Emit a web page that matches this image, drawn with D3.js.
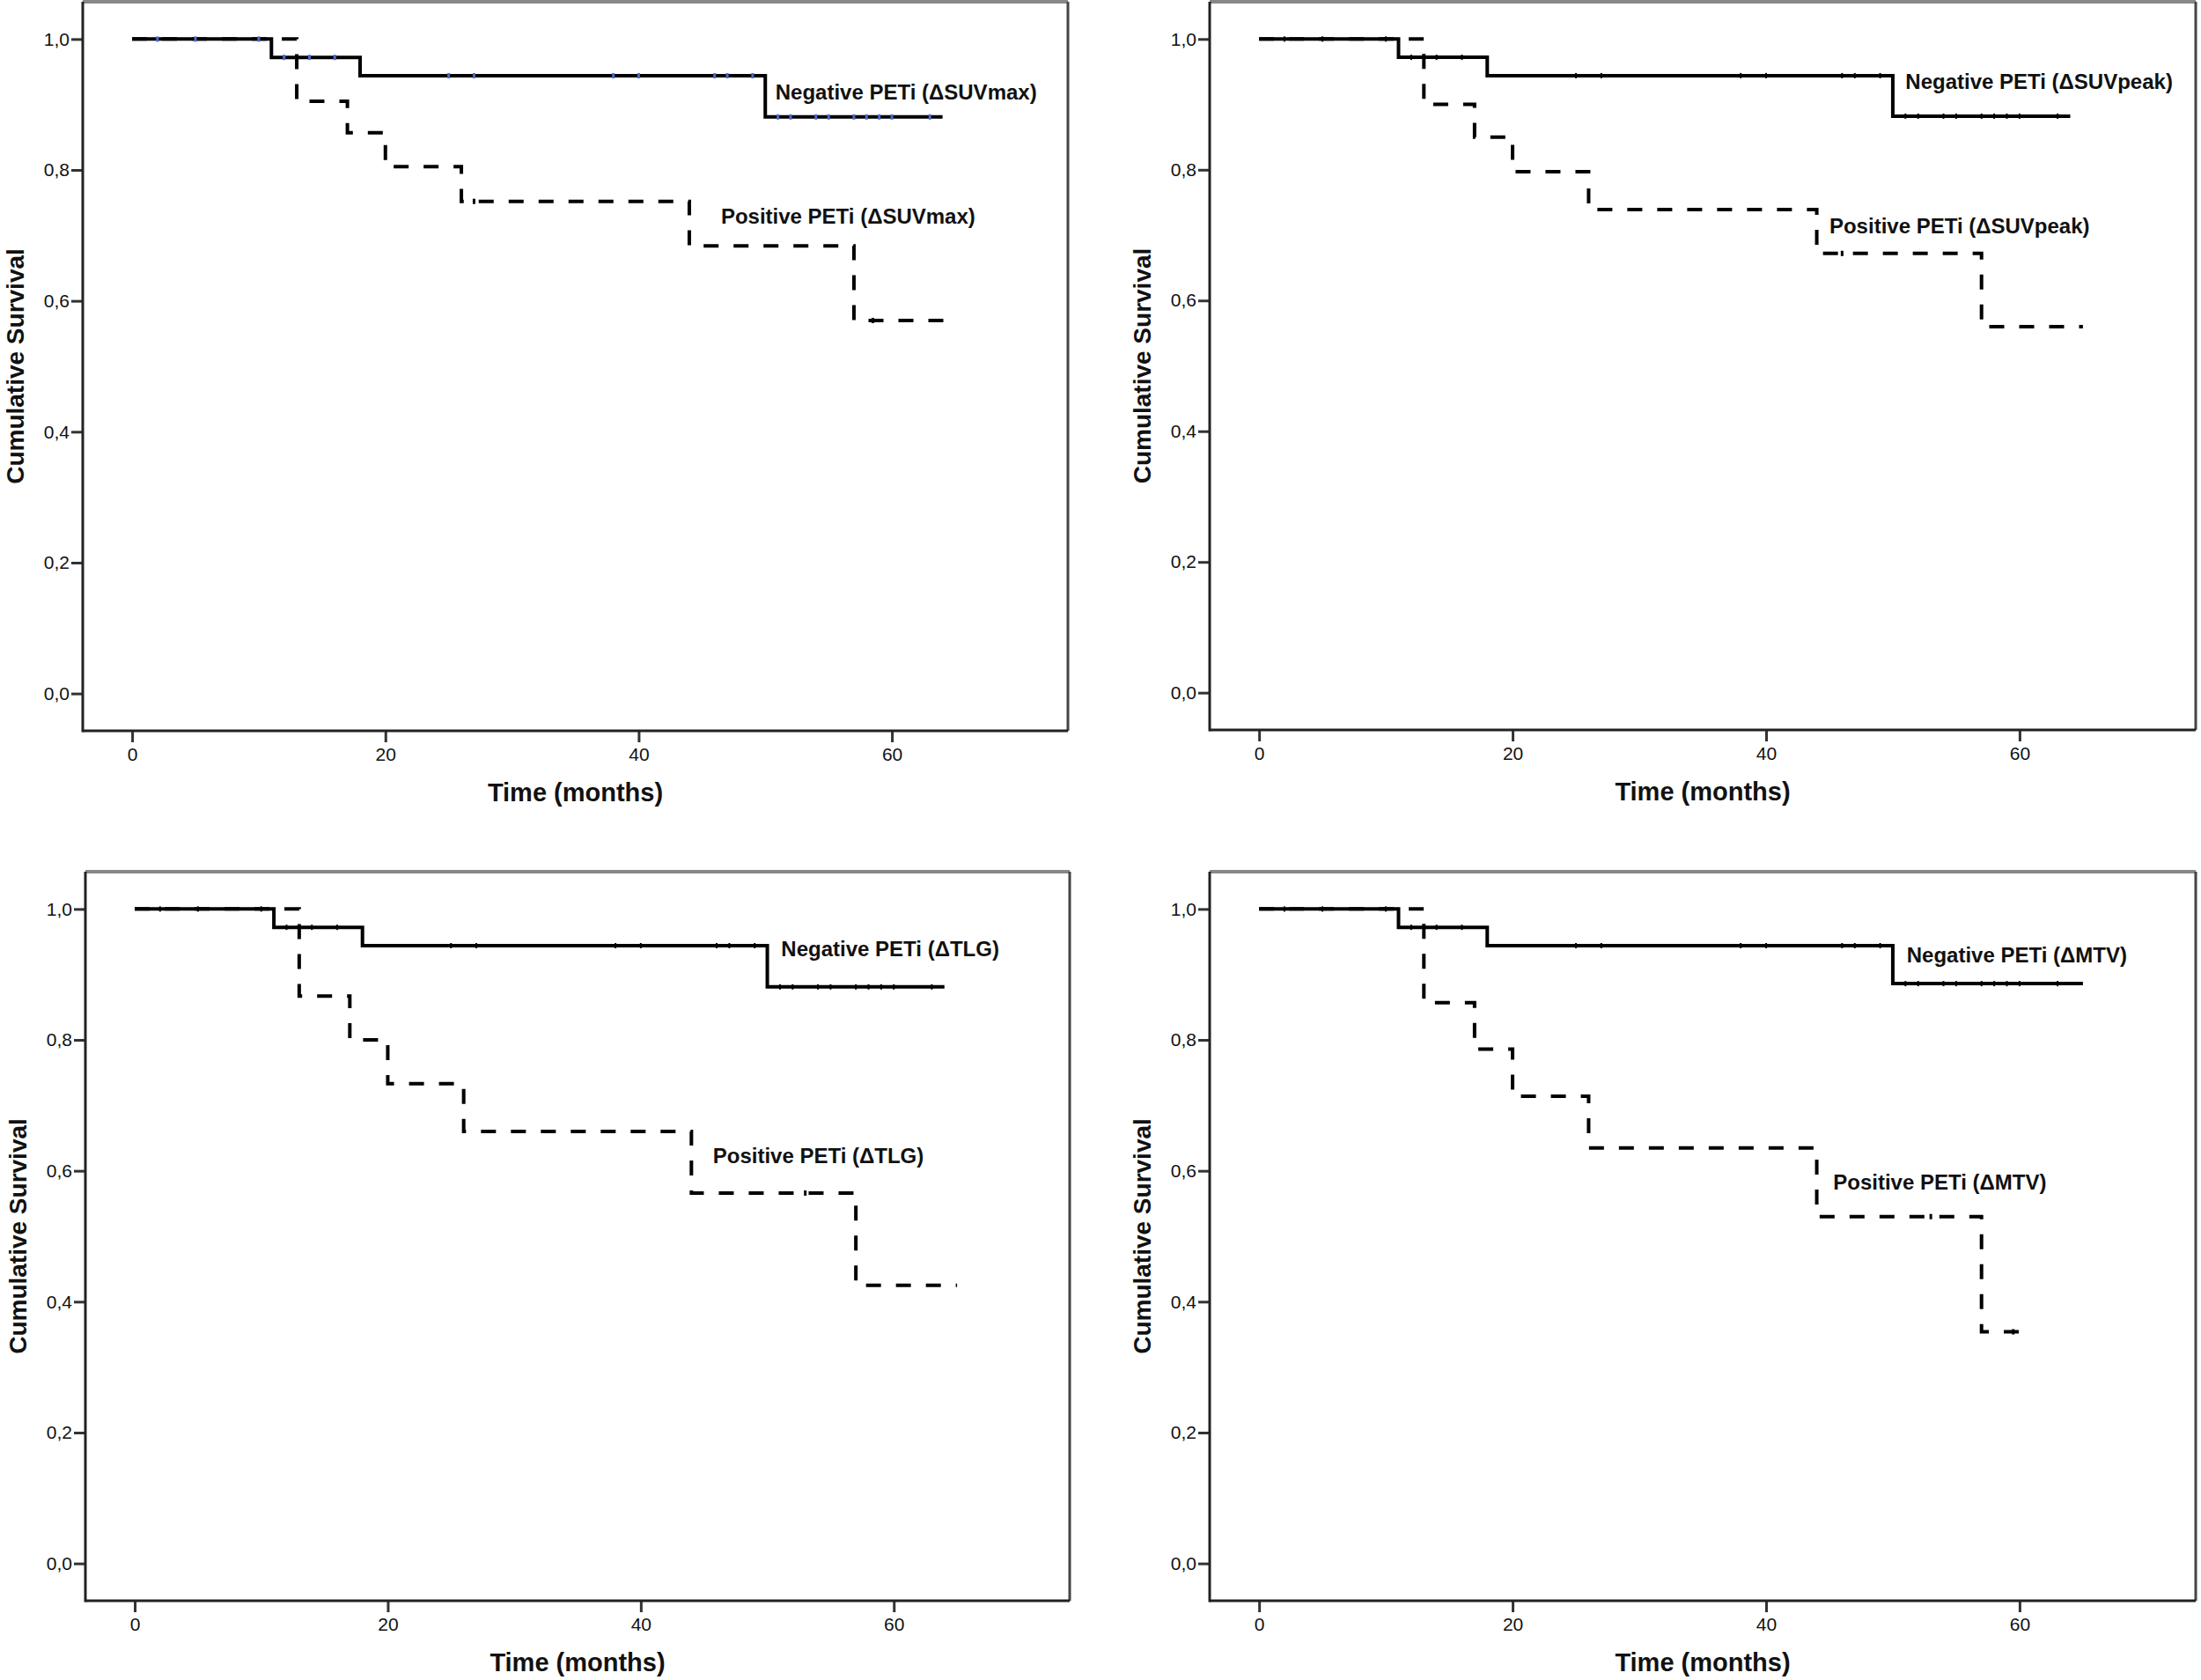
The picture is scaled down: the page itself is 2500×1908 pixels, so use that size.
<!DOCTYPE html>
<html lang="en">
<head>
<meta charset="utf-8">
<title>Kaplan-Meier curves: PETi</title>
<script src="https://d3js.org/d3.v7.min.js"></script>
<style>
  body { margin: 0; background: #fff; }
  text { font-family: "Liberation Sans", Arial, sans-serif; fill: #111; }
</style>
</head>
<body>
<div id="chart"></div>
<script>
// event times (months) shared by the panels
var negTimes = [0, 11, 18, 50];
var posTimes = [0, 13, 17, 20, 26, 44, 57];

// survival estimates
var negSuvmax = [1, 0.972, 0.944, 0.881];
var posSuvmax = [1, 0.905, 0.857, 0.805, 0.752, 0.684, 0.570];
var negSuvpeak = [1, 0.972, 0.944, 0.882];
var posSuvpeak = [1, 0.900, 0.850, 0.797, 0.739, 0.672, 0.560];
var negTlg = [1, 0.972, 0.944, 0.881];
var posTlg = [1, 0.867, 0.800, 0.733, 0.660, 0.566, 0.425];
var negMtv = [1, 0.972, 0.944, 0.886];
var posMtv = [1, 0.857, 0.786, 0.714, 0.635, 0.530, 0.354];

// last follow-up of each curve
var negEnd = [64, 64, 64, 65];
var posEnd = [65, 65, 65, 60];

// censored cases
var negCensor = [2, 5, 10, 12, 14, 16, 25, 27, 38, 40, 46, 47, 49, 51, 52, 54, 55, 57, 58, 59, 60, 63];
var posCensor1 = [27, 58.5];
var posCensor2 = [46];
var posCensor3 = [53];
var posCensor4 = [53, 59.5];

var negLabels = ["Negative PETi (\u0394SUVmax)", "Negative PETi (\u0394SUVpeak)", "Negative PETi (\u0394TLG)", "Negative PETi (\u0394MTV)"];
var posLabels = ["Positive PETi (\u0394SUVmax)", "Positive PETi (\u0394SUVpeak)", "Positive PETi (\u0394TLG)", "Positive PETi (\u0394MTV)"];

var xTicks = [0, 20, 40, 60];
var yTicks = [0, 0.2, 0.4, 0.6, 0.8, 1.0];

// panel frames on the page
var panels = [
  {left: 94,   right: 1213, top: 2,   bottom: 830, neg: negSuvmax,  pos: posSuvmax,  pc: posCensor1, negLab: [50.8, 0.907], posLab: [46.5, 0.718], blue: true},
  {left: 1374, right: 2494, top: 2,   bottom: 829, neg: negSuvpeak, pos: posSuvpeak, pc: posCensor2, negLab: [51.0, 0.923], posLab: [45.0, 0.703]},
  {left: 97,   right: 1215, top: 990, bottom: 1818, neg: negTlg,    pos: posTlg,     pc: posCensor3, negLab: [51.1, 0.928], posLab: [45.7, 0.611]},
  {left: 1374, right: 2494, top: 990, bottom: 1818, neg: negMtv,    pos: posMtv,     pc: posCensor4, negLab: [51.1, 0.919], posLab: [45.3, 0.571]}
];

var W = 2500, H = 1908;

var svg = d3.select("#chart")
  .append("svg")
    .attr("width", W)
    .attr("height", H);

svg.append("rect").attr("width", W).attr("height", H).attr("fill", "#fff");

function stepValue(times, surv, t) {
  var v = surv[0];
  for (var i = 0; i < times.length; i++) {
    if (times[i] <= t) v = surv[i];
  }
  return v;
}

var fmt = function(d) { return d3.format(".1f")(d).replace(".", ","); };

panels.forEach(function(p, k) {
  var x = d3.scaleLinear().domain([-3.9, 73.9]).range([p.left, p.right]);
  var y = d3.scaleLinear().domain([-0.057, 1.057]).range([p.bottom, p.top]);
  var g = svg.append("g");

  // X axis
  var xa = g.append("g")
    .attr("transform", "translate(0," + p.bottom + ")")
    .call(d3.axisBottom(x).tickValues(xTicks).tickSize(13).tickSizeOuter(0).tickPadding(6));
  // Y axis
  var ya = g.append("g")
    .attr("transform", "translate(" + p.left + ",0)")
    .call(d3.axisLeft(y).tickValues(yTicks).tickFormat(fmt).tickSize(13).tickSizeOuter(0).tickPadding(2));
  [xa, ya].forEach(function(a) {
    a.select(".domain").remove();
    a.selectAll("line").attr("stroke", "#333").attr("stroke-width", 3);
    a.selectAll("text").attr("font-size", 21).attr("fill", "#111")
      .style("font-family", "'Liberation Sans', Arial, sans-serif");
  });

  // frame
  g.append("line").attr("x1", p.left).attr("x2", p.right).attr("y1", p.top).attr("y2", p.top)
    .attr("stroke", "#888").attr("stroke-width", 4);
  g.append("line").attr("x1", p.right).attr("x2", p.right).attr("y1", p.top).attr("y2", p.bottom)
    .attr("stroke", "#444").attr("stroke-width", 3);
  g.append("line").attr("x1", p.left).attr("x2", p.left).attr("y1", p.top).attr("y2", p.bottom + 1.5)
    .attr("stroke", "#222").attr("stroke-width", 3);
  g.append("line").attr("x1", p.left).attr("x2", p.right).attr("y1", p.bottom).attr("y2", p.bottom)
    .attr("stroke", "#222").attr("stroke-width", 3);

  var line = d3.line()
    .x(function(d) { return x(d[0]); })
    .y(function(d) { return y(d[1]); })
    .curve(d3.curveStepAfter);

  var negPts = negTimes.map(function(t, i) { return [t, p.neg[i]]; });
  negPts.push([negEnd[k], p.neg[p.neg.length - 1]]);
  var posPts = posTimes.map(function(t, i) { return [t, p.pos[i]]; });
  posPts.push([posEnd[k], p.pos[p.pos.length - 1]]);

  g.append("path").datum(negPts)
    .attr("d", line).attr("fill", "none")
    .attr("stroke", "#000").attr("stroke-width", 4);

  g.append("path").datum(posPts)
    .attr("d", line).attr("fill", "none")
    .attr("stroke", "#000").attr("stroke-width", 4)
    .attr("stroke-dasharray", "17,17");

  // censor marks
  g.selectAll(".nc").data(negCensor.filter(function(t) { return t < negEnd[k]; }))
    .enter().append("line")
      .attr("x1", function(t) { return x(t); })
      .attr("x2", function(t) { return x(t); })
      .attr("y1", function(t) { return y(stepValue(negTimes, p.neg, t)) - 3; })
      .attr("y2", function(t) { return y(stepValue(negTimes, p.neg, t)) + 3; })
      .attr("stroke", p.blue ? "#4a6bd0" : "#000")
      .attr("stroke-width", p.blue ? 3 : 2);

  g.selectAll(".pc").data(p.pc)
    .enter().append("line")
      .attr("x1", function(t) { return x(t); })
      .attr("x2", function(t) { return x(t); })
      .attr("y1", function(t) { return y(stepValue(posTimes, p.pos, t)) - 3; })
      .attr("y2", function(t) { return y(stepValue(posTimes, p.pos, t)) + 3; })
      .attr("stroke", "#000").attr("stroke-width", 3);

  // curve labels
  g.append("text")
    .attr("x", x(p.negLab[0])).attr("y", y(p.negLab[1]))
    .attr("font-size", 24).attr("font-weight", "bold")
    .text(negLabels[k]);
  g.append("text")
    .attr("x", x(p.posLab[0])).attr("y", y(p.posLab[1]))
    .attr("font-size", 24).attr("font-weight", "bold")
    .text(posLabels[k]);

  // axis titles
  g.append("text")
    .attr("x", (p.left + p.right) / 2).attr("y", p.bottom + 80)
    .attr("text-anchor", "middle")
    .attr("font-size", 29).attr("font-weight", "bold")
    .text("Time (months)");
  g.append("text")
    .attr("transform", "translate(" + (p.left - 67) + "," + ((p.top + p.bottom) / 2) + ") rotate(-90)")
    .attr("text-anchor", "middle")
    .attr("font-size", 28).attr("font-weight", "bold")
    .text("Cumulative Survival");
});
</script>
</body>
</html>
